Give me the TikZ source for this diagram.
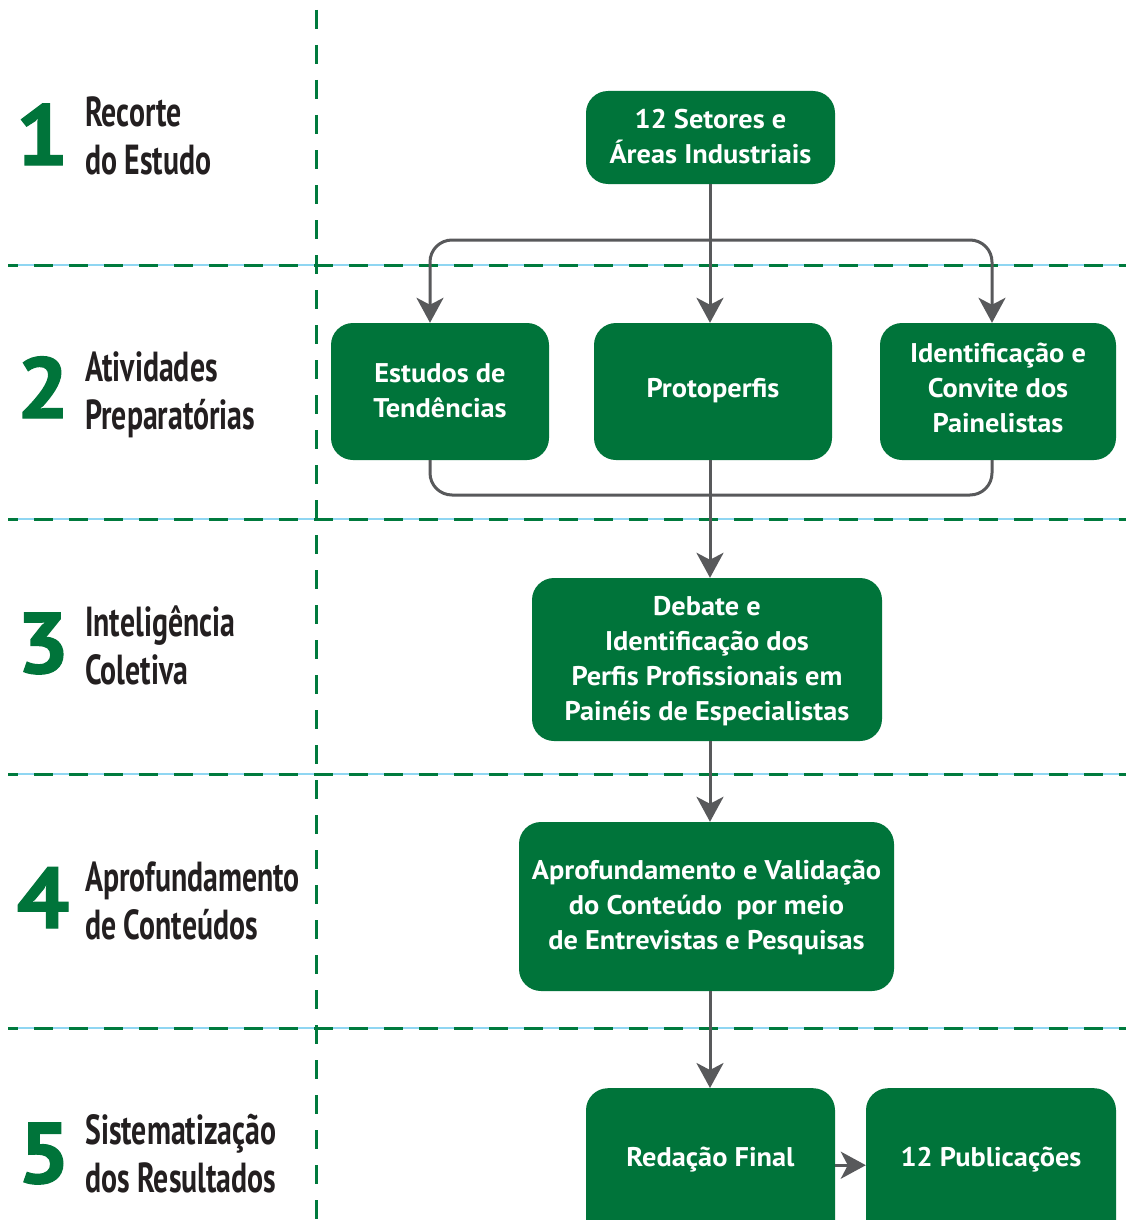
\documentclass[tikz,border=0pt]{standalone}
\usepackage{fontspec}
\setmainfont{PT Sans}
\newfontfamily\labfont{PT Sans}[FakeStretch=0.71]
\newfontfamily\boxfont{PT Sans}[FakeStretch=1.05]
\newfontfamily\numfont{PT Sans}[FakeBold=1.6, FakeStretch=1.08]
\usetikzlibrary{arrows.meta}
\definecolor{boxgreen}{HTML}{00743A}
\definecolor{sepgreen}{HTML}{007A3D}
\definecolor{arrgray}{HTML}{58595B}
\definecolor{sepcyan}{HTML}{8FD6F2}
\definecolor{labink}{HTML}{231F20}
\newcommand\topstrut{\rule{0pt}{24pt}}
\newcommand\lowtopstrut{\rule{0pt}{17pt}}
\newcommand\botstrut{\rule[-8pt]{0pt}{8pt}}
\tikzset{
  gbox/.style={fill=boxgreen, rounded corners=22pt, text=white, align=center,
    inner sep=0pt, font=\boxfont\bfseries\fontsize{27}{35}\selectfont},
  conn/.style={draw=arrgray, line width=3pt},
  tipped/.style={-{Stealth[length=25pt,width=27pt,inset=7pt]}},
  sepline/.style={draw=sepgreen, line width=3pt, dash pattern=on 19pt off 16pt},
  cyanline/.style={draw=sepcyan, line width=1.5pt},
  numlab/.style={text=boxgreen, font=\numfont\bfseries\fontsize{86}{86}\selectfont, inner sep=0pt, anchor=base},
  rowlab/.style={text=labink, font=\labfont\bfseries\fontsize{42}{48}\selectfont, align=left, inner sep=0pt, anchor=west}
}
\begin{document}
\begin{tikzpicture}[x=1pt,y=-1pt]
\useasboundingbox (0,0) rectangle (1126,1220);
\clip (0,0) rectangle (1126,1220);
\fill[white] (0,0) rectangle (1126,1220);

% separators
\foreach \yy in {265,519,774,1028}{
  \draw[cyanline] (8,\yy) -- (1126,\yy);
  \draw[sepline, dash phase=9pt] (8,\yy) -- (1126,\yy);
}
\draw[sepline] (316,10) -- (316,1220);

% row labels
\node[numlab] (n1) at (42,165) {1};
\node[rowlab] (l1) at (85,136) {Recorte\\do Estudo};
\node[numlab] (n2) at (43,418) {2};
\node[rowlab] (l2) at (85,395) {Atividades\\Preparatórias};
\node[numlab] (n3) at (43,673) {3};
\node[rowlab] (l3) at (85,645) {Inteligência\\Coletiva};
\node[numlab] (n4) at (43,928) {4};
\node[rowlab] (l4) at (85,901) {Aprofundamento\\de Conteúdos};
\node[numlab] (n5) at (44,1183) {5};
\node[rowlab] (l5) at (85,1154) {Sistematização\\dos Resultados};

% boxes
\node[gbox, minimum width=249pt, minimum height=93pt] (a) at (710.5,137.5) {\topstrut 12 Setores e\\Áreas Industriais\botstrut};
\node[gbox, minimum width=218pt, minimum height=137pt] (b) at (440,391.5) {\topstrut Estudos de\\Tendências\botstrut};
\node[gbox, minimum width=238pt, minimum height=137pt] (c) at (713,391.5) {\lowtopstrut Protoperfis\botstrut};
\node[gbox, minimum width=236pt, minimum height=137pt] (d) at (998,391.5) {\lowtopstrut Identificação e\\Convite dos\\Painelistas\botstrut};
\node[gbox, minimum width=350pt, minimum height=163pt] (e) at (707,659.5) {\topstrut Debate e\\Identificação dos\\Perfis Profissionais em\\Painéis de Especialistas\botstrut};
\node[gbox, minimum width=375pt, minimum height=169pt] (f) at (706.5,906.5) {\topstrut Aprofundamento e Validação\\do Conteúdo\ \ por meio\\de Entrevistas e Pesquisas\botstrut};
\node[gbox, minimum width=249pt, text height=78pt, text depth=94pt, anchor=north] (g) at (710.5,1088) {Redação Final};
\node[gbox, minimum width=250pt, text height=78pt, text depth=94pt, anchor=north] (h) at (991,1088) {12 Publicações};

% connectors
\coordinate (ja) at (710,240);
\coordinate (jb) at (710,495);
\draw[conn, tipped] (a.south -| ja) -- (c.north -| ja);
\draw[conn, tipped, rounded corners=22pt] (ja) -| ([xshift=-10pt]b.north);
\draw[conn, tipped, rounded corners=22pt] (ja) -| ([xshift=-6pt]d.north);
\draw[conn, rounded corners=22pt] ([xshift=-10pt]b.south) |- (jb) -| ([xshift=-6pt]d.south);
\draw[conn, tipped] (c.south -| ja) -- (e.north -| ja);
\draw[conn, tipped] (e.south -| ja) -- (f.north -| ja);
\draw[conn, tipped] (f.south -| ja) -- (g.north -| ja);
\draw[conn, tipped] ([yshift=9pt]g.east) -- ([yshift=9pt]h.west);
\end{tikzpicture}
\end{document}
